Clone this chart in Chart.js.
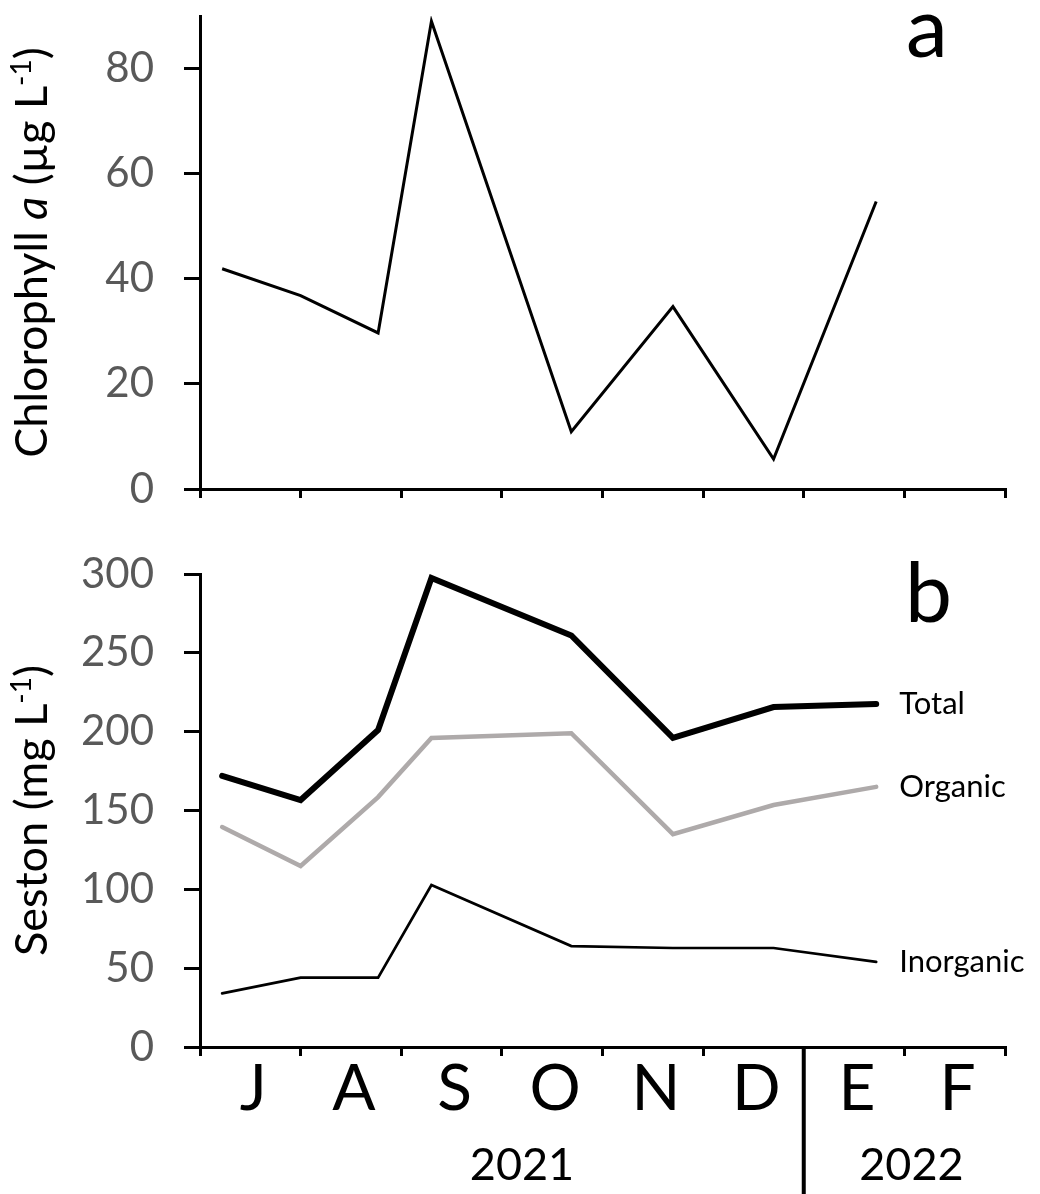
<!DOCTYPE html>
<html>
<head>
<meta charset="utf-8">
<script src="https://cdn.jsdelivr.net/npm/chart.js@4.4.1/dist/chart.umd.min.js"></script>
<style>
  html, body { margin: 0; padding: 0; background: #fff; }
  #wrap { position: relative; width: 1040px; height: 1194px; overflow: hidden; }
  #chlChart { position: absolute; left: 0; top: 0; }
  #sestonChart { position: absolute; left: 0; top: 540px; }
</style>
</head>
<body>
<div id="wrap">
  <canvas id="chlChart" width="1040" height="520"></canvas>
  <canvas id="sestonChart" width="1040" height="654"></canvas>
</div>
<script>
// sampling dates, as months after 1 July 2021 (J = 0 .. F = 8)
const sampleMonth = [0.22, 1.0, 1.77, 2.3, 3.69, 4.7, 5.7, 6.72];

// chlorophyll a, µg/L
const chl = [41.9, 36.8, 29.7, 89.0, 10.9, 34.7, 5.7, 54.7];

// seston, mg/L
const total     = [172, 156.6, 201, 297.4, 261, 196, 215.6, 217.5];
const organic   = [139.5, 114.8, 158.5, 196, 199, 135, 153.5, 165];
const inorganic = [34, 44, 44, 102.7, 64, 62.8, 62.8, 54];

const months = ['J', 'A', 'S', 'O', 'N', 'D', 'E', 'F'];
const years = ['2021', '2022'];
const yearStart = 6; // index of the first 2022 month

const FONT = 'Lato, "Open Sans", sans-serif';
const GREY = '#aeaaaa';
const YEAR_POS = [3.2, 7.07];

const pts = vals => vals.map((v, i) => ({ x: sampleMonth[i], y: v }));

function yAxis(max, step) {
  return {
    min: 0, max,
    ticks: { stepSize: step, color: '#595959', font: { family: FONT, size: 42 }, padding: 30 },
    grid: { drawOnChartArea: false, drawTicks: true, tickLength: 16, color: '#000', lineWidth: 3 },
    border: { display: true, color: '#000', width: 3 },
    afterBuildTicks: s => { s.ticks = s.ticks.filter(t => t.value % step === 0); },
    afterFit: s => { s.width = 200; s.paddingTop = 0; s.paddingBottom = 0; }
  };
}

function xAxis(h) {
  return {
    type: 'linear', min: 0, max: 8,
    ticks: { stepSize: 1, display: false },
    grid: { drawOnChartArea: false, drawTicks: true, tickLength: 9, color: '#000', lineWidth: 3 },
    border: { display: true, color: '#000', width: 3 },
    afterFit: s => { s.height = h; s.paddingLeft = 0; s.paddingRight = 0; }
  };
}

// rotated axis title made of styled parts
function drawYTitle(ctx, parts, x, cy, size) {
  const fontOf = p => `${p.italic ? 'italic ' : ''}${p.sup ? Math.round(size * 0.62) : size}px ${FONT}`;
  ctx.save();
  ctx.translate(x, cy);
  ctx.rotate(-Math.PI / 2);
  let w = 0;
  parts.forEach(p => { ctx.font = fontOf(p); p.w = ctx.measureText(p.t).width; w += p.w; });
  let px = -w / 2;
  ctx.fillStyle = '#000';
  ctx.textAlign = 'left';
  ctx.textBaseline = 'alphabetic';
  parts.forEach(p => {
    ctx.font = fontOf(p);
    ctx.fillText(p.t, px, p.sup ? -size * 0.36 : 0);
    px += p.w;
  });
  ctx.restore();
}

function panelLetter(ctx, txt, x, y) {
  ctx.save();
  ctx.font = `84px ${FONT}`;
  ctx.fillStyle = '#000';
  ctx.textAlign = 'left';
  ctx.textBaseline = 'alphabetic';
  ctx.fillText(txt, x, y);
  ctx.restore();
}

const chlDecor = {
  id: 'chlDecor',
  afterDraw(chart) {
    const { ctx, chartArea: a } = chart;
    drawYTitle(ctx, [
      { t: 'Chlorophyll ' }, { t: 'a', italic: true }, { t: ' (µg L' }, { t: '-1', sup: true }, { t: ')' }
    ], 47, (a.top + a.bottom) / 2, 45);
    panelLetter(ctx, 'a', 906, 57);
  }
};

const sestonDecor = {
  id: 'sestonDecor',
  afterDraw(chart) {
    const { ctx, chartArea: a } = chart;
    const xs = chart.scales.x;
    drawYTitle(ctx, [
      { t: 'Seston (mg L' }, { t: '-1', sup: true }, { t: ')' }
    ], 47, (a.top + a.bottom) / 2, 45);
    panelLetter(ctx, 'b', 905, 82);

    // series names at the line ends
    ctx.save();
    ctx.font = `31px ${FONT}`;
    ctx.fillStyle = '#000';
    ctx.textBaseline = 'middle';
    chart.data.datasets.forEach((ds, i) => {
      const last = chart.getDatasetMeta(i).data.at(-1);
      ctx.fillText(ds.label, last.x + 23, last.y);
    });

    // months and years
    ctx.textAlign = 'center';
    ctx.textBaseline = 'alphabetic';
    ctx.font = `64px ${FONT}`;
    months.forEach((m, i) => ctx.fillText(m, xs.getPixelForValue(i + 0.5) + 3, a.bottom + 63));
    ctx.font = `45px ${FONT}`;
    years.forEach((y, i) => ctx.fillText(y, xs.getPixelForValue(YEAR_POS[i]), a.bottom + 133));

    // year separator
    const sx = xs.getPixelForValue(yearStart);
    ctx.strokeStyle = '#000';
    ctx.lineWidth = 4;
    ctx.beginPath();
    ctx.moveTo(sx, a.bottom);
    ctx.lineTo(sx, chart.height);
    ctx.stroke();
    ctx.restore();
  }
};

new Chart(document.getElementById('chlChart'), {
  type: 'line',
  data: {
    datasets: [{
      label: 'Chlorophyll a',
      data: pts(chl),
      borderColor: '#000',
      borderWidth: 3,
      pointRadius: 0,
      tension: 0
    }]
  },
  options: {
    responsive: false,
    animation: false,
    devicePixelRatio: 1,
    layout: { autoPadding: false, padding: { top: 16, right: 35, left: 0, bottom: 0 } },
    plugins: { legend: { display: false }, tooltip: { enabled: false } },
    scales: { x: xAxis(31), y: yAxis(90, 20) }
  },
  plugins: [chlDecor]
});

new Chart(document.getElementById('sestonChart'), {
  type: 'line',
  data: {
    datasets: [
      { label: 'Total', data: pts(total), borderColor: '#000', borderWidth: 6, borderCapStyle: 'round' },
      { label: 'Organic', data: pts(organic), borderColor: GREY, borderWidth: 4.5, borderCapStyle: 'round' },
      { label: 'Inorganic', data: pts(inorganic), borderColor: '#000', borderWidth: 2.7, borderCapStyle: 'round' }
    ].map(d => ({ ...d, pointRadius: 0, tension: 0 }))
  },
  options: {
    responsive: false,
    animation: false,
    devicePixelRatio: 1,
    layout: { autoPadding: false, padding: { top: 34, right: 35, left: 0, bottom: 0 } },
    plugins: { legend: { display: false }, tooltip: { enabled: false } },
    scales: { x: xAxis(147), y: yAxis(300, 50) }
  },
  plugins: [sestonDecor]
});
</script>
</body>
</html>
